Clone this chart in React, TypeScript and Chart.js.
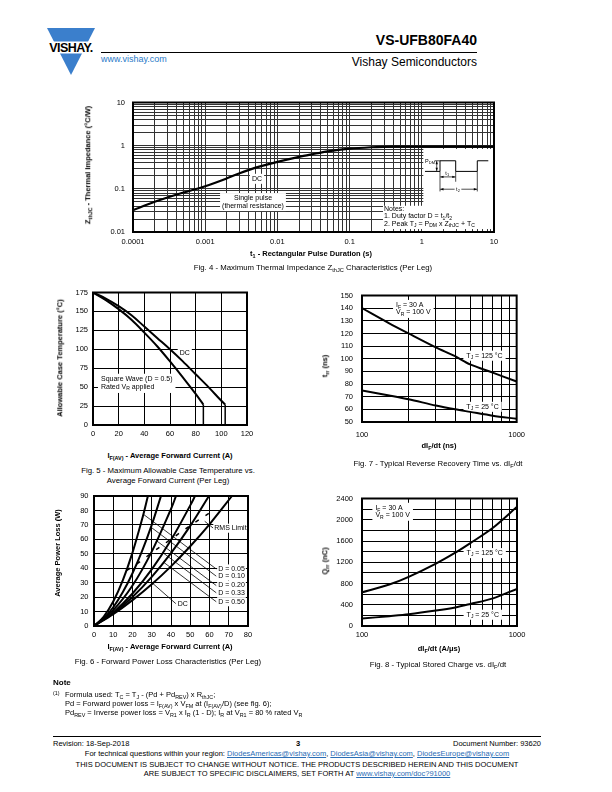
import React, { useEffect, useRef } from "react";
import { Chart, registerables } from "chart.js";

Chart.register(...registerables);

const FAMILY = "'Liberation Sans', Arial, Helvetica, sans-serif";

// ---------------- Fig. 4 data ----------------
const fig4T = [0.0001, 0.0002, 0.0003, 0.0005, 0.001, 0.002, 0.003, 0.005, 0.01, 0.02, 0.03, 0.05, 0.1, 0.2, 0.3, 0.5, 1, 2, 5, 10];
const fig4Z = [0.032, 0.05, 0.063, 0.082, 0.115, 0.175, 0.23, 0.31, 0.42, 0.55, 0.63, 0.74, 0.85, 0.92, 0.94, 0.95, 0.95, 0.95, 0.95, 0.95];
const fig4XTicks = [0.0001, 0.001, 0.01, 0.1, 1, 10];
const fig4XLabels = ["0.0001", "0.001", "0.01", "0.1", "1", "10"];
const fig4YTicks = [0.01, 0.1, 1, 10];
const fig4YLabels = ["0.01", "0.1", "1", "10"];

// ---------------- Fig. 5 data ----------------
const fig5DcI = [0, 10, 20, 30, 40, 50, 60, 70, 80, 90, 100, 103];
const fig5DcT = [175, 167, 157, 145, 130, 115, 100, 84, 67, 50, 32, 27];
const fig5SqI = [0, 10, 20, 30, 40, 50, 60, 70, 80, 86];
const fig5SqT = [175, 165, 153, 139, 122, 104, 84, 63, 41, 27];

// ---------------- Fig. 7 data ----------------
const fig7X = [100, 150, 200, 300, 400, 500, 700, 1000];
const fig7Hot = [140, 128, 120, 109, 102, 95.5, 89, 82];
const fig7Cold = [75, 71, 68, 63, 60, 58, 55, 52.5];
const logTicks100 = [100, 1000];
const logLabels100 = ["100", "1000"];

// ---------------- Fig. 8 data ----------------
const fig8X = [100, 150, 200, 300, 400, 500, 700, 1000];
const fig8Hot = [635, 780, 925, 1175, 1380, 1560, 1850, 2245];
const fig8Cold = [140, 185, 220, 290, 350, 415, 520, 700];

// ---------------- Fig. 6 data ----------------
const fig6Labels = ["D = 0.05", "D = 0.10", "D = 0.20", "D = 0.33", "D = 0.50", "DC"];
const fig6I005 = [0, 5, 10, 15, 20, 25, 28];
const fig6P005 = [0, 6.4, 17, 31.8, 50.8, 74, 90];
const fig6I010 = [0, 5, 10, 15, 20, 25, 30, 34.8];
const fig6P010 = [0, 5.3, 13, 23.5, 36.5, 52, 70, 90];
const fig6I020 = [0, 10, 20, 30, 40, 42.6];
const fig6P020 = [0, 11, 28, 51.5, 81, 90];
const fig6I033 = [0, 10, 20, 30, 40, 50, 52.5];
const fig6P033 = [0, 9.4, 22.5, 39.2, 59.5, 83.5, 90];
const fig6I050 = [0, 10, 20, 30, 40, 50, 59.7];
const fig6P050 = [0, 8.8, 20.1, 34, 50.4, 69.3, 90];
const fig6IDC = [0, 10, 20, 30, 40, 50, 60, 71.7];
const fig6PDC = [0, 8.2, 17.9, 28.9, 41.3, 55.2, 70.4, 90];
const fig6RmsI = [17, 22, 29.5, 40.3, 50.2, 62];
const fig6RmsP = [38.5, 42.7, 50.2, 60.4, 69.8, 80];
// leader lines: curve point -> label point
const fig6LeadFromI = [25.6, 29.6, 32.6, 35.6, 36.2, 30.5];
const fig6LeadFromP = [77.4, 68.4, 58.9, 50.9, 44.1, 29.5];
const fig6LabelI = [64.5, 64.5, 64.5, 64.5, 64.5, 43.5];
const fig6LabelP = [39.5, 34.5, 28, 23, 16.8, 15.5];

// ---------------- layout helpers ----------------
const YW = 44, PT = 8, PR = 16, XH = 18;

type Seg = { t: string; s: number };
function parseRich(str: string): Seg[] {
  const out: Seg[] = [];
  const re = /([_^])\{([^}]*)\}/g;
  let last = 0;
  let m: RegExpExecArray | null;
  while ((m = re.exec(str))) {
    if (m.index > last) out.push({ t: str.slice(last, m.index), s: 0 });
    out.push({ t: m[2], s: m[1] === "_" ? 1 : 2 });
    last = re.lastIndex;
  }
  if (last < str.length) out.push({ t: str.slice(last), s: 0 });
  return out;
}

function Rich({ text }: { text: string }) {
  return (
    <>
      {parseRich(text).map((g, i) =>
        g.s === 0 ? (
          <span key={i}>{g.t}</span>
        ) : (
          <span key={i} style={{ fontSize: "0.72em", position: "relative", top: g.s === 1 ? "0.3em" : "-0.45em" }}>{g.t}</span>
        )
      )}
    </>
  );
}

function richWidth(ctx: CanvasRenderingContext2D, segs: Seg[], size: number, weight: string) {
  let w = 0;
  for (const g of segs) {
    ctx.font = `${weight} ${g.s ? size * 0.72 : size}px ${FAMILY}`;
    w += ctx.measureText(g.t).width;
  }
  return w;
}
function drawRich(ctx: CanvasRenderingContext2D, segs: Seg[], x: number, y: number, size: number, weight: string) {
  let cx = x;
  for (const g of segs) {
    const fs = g.s ? size * 0.72 : size;
    ctx.font = `${weight} ${fs}px ${FAMILY}`;
    const dy = g.s === 1 ? size * 0.28 : g.s === 2 ? -size * 0.35 : 0;
    ctx.fillText(g.t, cx, y + dy);
    cx += ctx.measureText(g.t).width;
  }
}

function arrowHead(ctx: CanvasRenderingContext2D, x: number, y: number, ang: number, len: number) {
  ctx.beginPath();
  ctx.moveTo(x, y);
  ctx.lineTo(x - len * Math.cos(ang - 0.35), y - len * Math.sin(ang - 0.35));
  ctx.lineTo(x - len * Math.cos(ang + 0.35), y - len * Math.sin(ang + 0.35));
  ctx.closePath();
  ctx.fill();
}

const decoPlugin = {
  id: "deco",
  beforeDatasetsDraw(chart: any, _a: any, o: any) {
    const ctx: CanvasRenderingContext2D = chart.ctx;
    const xs = chart.scales.x, ys = chart.scales.y;
    const X = (v: number) => xs.getPixelForValue(v);
    const Y = (v: number) => ys.getPixelForValue(v);
    ctx.save();
    for (const r of o.rects || []) {
      const x1 = X(r.x1), x2 = X(r.x2), y1 = Y(r.y1), y2 = Y(r.y2);
      ctx.fillStyle = "#fff";
      ctx.fillRect(Math.min(x1, x2), Math.min(y1, y2), Math.abs(x2 - x1), Math.abs(y2 - y1));
    }
    for (const s of o.segs || []) {
      const x1 = X(s.x1), x2 = X(s.x2), y1 = Y(s.y1), y2 = Y(s.y2);
      ctx.strokeStyle = "#000";
      ctx.fillStyle = "#000";
      ctx.lineWidth = s.w ?? 1;
      ctx.setLineDash(s.dash || []);
      ctx.beginPath();
      ctx.moveTo(x1, y1);
      ctx.lineTo(x2, y2);
      ctx.stroke();
      ctx.setLineDash([]);
      if (s.arrows) {
        const ang = Math.atan2(y2 - y1, x2 - x1);
        arrowHead(ctx, x2, y2, ang, 3.5);
        arrowHead(ctx, x1, y1, ang + Math.PI, 3.5);
      }
    }
    for (const b of o.boxes || []) {
      const size = b.size ?? 7;
      const weight = b.weight ?? "normal";
      const lh = b.lh ?? size * 1.15;
      const lines = b.lines.map(parseRich);
      const widths = lines.map((l: Seg[]) => richWidth(ctx, l, size, weight));
      const w = Math.max(...widths);
      const h = lh * lines.length;
      const ax = X(b.x), ay = Y(b.y);
      const align = b.align ?? "center";
      const left = align === "left" ? ax : align === "right" ? ax - w : ax - w / 2;
      const top = ay - h / 2;
      if (b.bg !== false) {
        const px = b.padX ?? 2, py = b.padY ?? 1;
        ctx.fillStyle = "#fff";
        ctx.fillRect(left - px, top - py, w + 2 * px, h + 2 * py);
      }
      ctx.fillStyle = "#000";
      ctx.textBaseline = "middle";
      ctx.textAlign = "left";
      lines.forEach((l: Seg[], i: number) => {
        const lx = align === "center" ? ax - widths[i] / 2 : align === "right" ? ax - widths[i] : left;
        drawRich(ctx, l, lx, top + lh * (i + 0.5), size, weight);
      });
    }
    ctx.restore();
  },
  afterDraw(chart: any, _a: any, o: any) {
    const { left, top, right, bottom } = chart.chartArea;
    const ctx: CanvasRenderingContext2D = chart.ctx;
    ctx.save();
    ctx.strokeStyle = "#000";
    ctx.lineWidth = o.frame ?? 2;
    ctx.strokeRect(left, top, right - left, bottom - top);
    ctx.restore();
  },
};

const tickFont = { family: FAMILY, size: 7.5 };
const fitY = (s: any) => { s.width = YW; };
const fitX = (s: any) => { s.height = XH; };

function linScale(isX: boolean, min: number, max: number, step: number, pad: number) {
  return {
    type: "linear",
    min, max,
    afterFit: isX ? fitX : fitY,
    ticks: { stepSize: step, font: tickFont, color: "#000", padding: pad, maxRotation: 0, autoSkip: false },
    grid: { color: "#000", lineWidth: 1, drawTicks: false },
    border: { display: false },
  };
}

function logGrid(min: number, max: number) {
  const out: number[] = [];
  for (let d = min; d < max * 0.999; d *= 10) {
    for (let m = 1; m <= 9; m++) out.push(parseFloat((m * d).toPrecision(6)));
  }
  out.push(max);
  return out;
}

function logScale(isX: boolean, min: number, max: number, tv: number[], tl: string[], pad: number, gridColor: string) {
  const grid = logGrid(min, max);
  return {
    type: "logarithmic",
    min, max,
    afterFit: isX ? fitX : fitY,
    afterBuildTicks: (s: any) => { s.ticks = grid.map((v) => ({ value: v })); },
    ticks: {
      font: tickFont, color: "#000", padding: pad, maxRotation: 0, autoSkip: false,
      callback: (v: any) => {
        const i = tv.findIndex((t) => Math.abs(Math.log10(t) - Math.log10(Number(v))) < 1e-6);
        return i >= 0 ? tl[i] : "";
      },
    },
    grid: { color: gridColor, lineWidth: 1, drawTicks: false },
    border: { display: false },
  };
}

function xy(xs: number[], ys: number[]) {
  return xs.map((x, i) => ({ x, y: ys[i] }));
}
function curve(xs: number[], ys: number[], w = 2, tension = 0.35) {
  return { data: xy(xs, ys), borderColor: "#000", borderWidth: w, pointRadius: 0, tension, fill: false };
}

function baseOptions(x: any, y: any, deco: any) {
  return {
    responsive: false,
    animation: false,
    devicePixelRatio: 1,
    events: [],
    layout: { padding: { left: 0, top: PT, right: PR, bottom: 0 } },
    plugins: { legend: { display: false }, tooltip: { enabled: false }, title: { display: false }, deco },
    scales: { x, y },
  };
}

type Plot = { l: number; t: number; r: number; b: number };

function ChartBox({ plot, make }: { plot: Plot; make: () => any }) {
  const ref = useRef<HTMLCanvasElement>(null);
  const w = plot.r - plot.l + YW + PR;
  const h = plot.b - plot.t + PT + XH;
  useEffect(() => {
    const chart = new Chart(ref.current as HTMLCanvasElement, make());
    return () => chart.destroy();
  }, []);
  return (
    <canvas
      ref={ref}
      width={w}
      height={h}
      style={{ position: "absolute", left: plot.l - YW, top: plot.t - PT, width: w, height: h }}
    />
  );
}

// ---------------- chart configs ----------------
function makeFig4() {
  const deco = {
    frame: 2,
    rects: [
      { x1: 1.05, y1: 0.04, x2: 10, y2: 0.84 },
      { x1: 0.29, y1: 0.0117, x2: 10, y2: 0.0405 },
    ],
    segs: [
      { x1: 1.107, y1: 0.2535, x2: 1.787, y2: 0.2535 },
      { x1: 1.787, y1: 0.2535, x2: 1.787, y2: 0.4467 },
      { x1: 1.787, y1: 0.4467, x2: 2.948, y2: 0.4467 },
      { x1: 2.948, y1: 0.4467, x2: 2.948, y2: 0.2535 },
      { x1: 2.948, y1: 0.2535, x2: 5.87, y2: 0.2535 },
      { x1: 5.87, y1: 0.2535, x2: 5.87, y2: 0.4467 },
      { x1: 5.87, y1: 0.4467, x2: 8.34, y2: 0.4467 },
      { x1: 1.5, y1: 0.4467, x2: 1.787, y2: 0.4467, w: 0.7 },
      { x1: 1.61, y1: 0.44, x2: 1.61, y2: 0.258, w: 0.7, arrows: true },
      { x1: 1.787, y1: 0.2535, x2: 1.787, y2: 0.087, w: 0.7 },
      { x1: 2.948, y1: 0.2535, x2: 2.948, y2: 0.146, w: 0.7 },
      { x1: 5.87, y1: 0.2535, x2: 5.87, y2: 0.087, w: 0.7 },
      { x1: 1.8, y1: 0.189, x2: 2.93, y2: 0.189, w: 0.7, arrows: true },
      { x1: 1.8, y1: 0.098, x2: 5.83, y2: 0.098, w: 0.7, arrows: true },
    ],
    boxes: [
      { x: 0.00522, y: 0.1706, lines: ["DC"], size: 7 },
      { x: 0.00459, y: 0.0494, lines: ["Single pulse", "(thermal resistance)"], size: 7, lh: 8 },
      { x: 1.52, y: 0.43, lines: ["P_{DM}"], size: 5.5, align: "right", bg: false },
      { x: 2.25, y: 0.225, lines: ["t_{1}"], size: 5.5, bg: false },
      { x: 3.17, y: 0.098, lines: ["t_{2}"], size: 5.5, padX: 1.5 },
      {
        x: 0.3, y: 0.0228, align: "left", size: 7, lh: 7.4, bg: false,
        lines: ["Notes:", "1. Duty factor D = t_{1}/t_{2}", "2. Peak T_{J} = P_{DM} x Z_{thJC} + T_{C}"],
      },
    ],
  };
  return {
    type: "line",
    data: { datasets: [curve(fig4T, fig4Z, 2.2, 0.3)] },
    options: baseOptions(
      logScale(true, 0.0001, 10, fig4XTicks, fig4XLabels, 5, "#333"),
      logScale(false, 0.01, 10, fig4YTicks, fig4YLabels, 8, "#333"),
      deco
    ),
    plugins: [decoPlugin],
  };
}

function makeFig5() {
  const dcEnd = fig5DcI.length - 1;
  const sqEnd = fig5SqI.length - 1;
  const deco = {
    frame: 2,
    boxes: [
      { x: 71.5, y: 95.5, lines: ["DC"], size: 7, padX: 2 },
      { x: 6.2, y: 55, align: "left", size: 7, lh: 7.6, padX: 3, padY: 2, lines: ["Square Wave (D = 0.5)", "Rated V_{R} applied"] },
    ],
  };
  return {
    type: "line",
    data: {
      datasets: [
        curve(fig5DcI, fig5DcT),
        curve(fig5SqI, fig5SqT),
        curve([fig5DcI[dcEnd], fig5DcI[dcEnd]], [fig5DcT[dcEnd], 0], 1.5, 0),
        curve([fig5SqI[sqEnd], fig5SqI[sqEnd]], [fig5SqT[sqEnd], 0], 1.5, 0),
      ],
    },
    options: baseOptions(linScale(true, 0, 120, 20, 4), linScale(false, 0, 175, 25, 5), deco),
    plugins: [decoPlugin],
  };
}

function makeFig7() {
  const deco = {
    frame: 2,
    boxes: [
      { x: 166, y: 139.4, align: "left", size: 7, lh: 7, padX: 3, padY: 2, lines: ["I_{F} = 30 A", "V_{R} = 100 V"] },
      { x: 473, y: 102.4, align: "left", size: 7, padX: 3, lines: ["T_{J} = 125 °C"] },
      { x: 473, y: 62, align: "left", size: 7, padX: 3, lines: ["T_{J} = 25 °C"] },
    ],
  };
  return {
    type: "line",
    data: { datasets: [curve(fig7X, fig7Hot, 2, 0.3), curve(fig7X, fig7Cold, 2, 0.3)] },
    options: baseOptions(
      logScale(true, 100, 1000, logTicks100, logLabels100, 8, "#000"),
      linScale(false, 50, 150, 10, 9),
      deco
    ),
    plugins: [decoPlugin],
  };
}

function makeFig8() {
  const deco = {
    frame: 2,
    boxes: [
      { x: 122, y: 2150, align: "left", size: 7, lh: 7, padX: 3, padY: 2, lines: ["I_{F} = 30 A", "V_{R} = 100 V"] },
      { x: 473, y: 1372, align: "left", size: 7, padX: 3, lines: ["T_{J} = 125 °C"] },
      { x: 473, y: 212, align: "left", size: 7, padX: 3, lines: ["T_{J} = 25 °C"] },
    ],
  };
  const y = linScale(false, 0, 2400, 200, 9) as any;
  y.ticks.callback = (v: any) => (Number(v) % 400 === 0 ? String(v) : "");
  return {
    type: "line",
    data: { datasets: [curve(fig8X, fig8Hot, 2, 0.3), curve(fig8X, fig8Cold, 2, 0.3)] },
    options: baseOptions(logScale(true, 100, 1000, logTicks100, logLabels100, 4.5, "#000"), y, deco),
    plugins: [decoPlugin],
  };
}

function makeFig6() {
  const segs = fig6LeadFromI.map((x, i) => ({ x1: x, y1: fig6LeadFromP[i], x2: fig6LabelI[i] - 1, y2: fig6LabelP[i], w: 0.8 }));
  segs.push({ x1: 57.5, y1: 72.5, x2: 62, y2: 67.7, w: 0.8 });
  const boxes: any[] = fig6Labels.map((t, i) => ({ x: fig6LabelI[i], y: fig6LabelP[i], align: "left", size: 7, padX: 1, padY: 0.5, lines: [t] }));
  boxes.push({ x: 62.5, y: 67.7, align: "left", size: 7, padX: 1, padY: 0.5, lines: ["RMS Limit"] });
  const rms = curve(fig6RmsI, fig6RmsP, 1.5, 0) as any;
  rms.borderDash = [4, 8];
  return {
    type: "line",
    data: {
      datasets: [
        curve(fig6I005, fig6P005),
        curve(fig6I010, fig6P010),
        curve(fig6I020, fig6P020),
        curve(fig6I033, fig6P033),
        curve(fig6I050, fig6P050),
        curve(fig6IDC, fig6PDC),
        rms,
      ],
    },
    options: baseOptions(linScale(true, 0, 80, 10, 4.5), linScale(false, 0, 90, 10, 5.5), { frame: 2, segs, boxes }),
    plugins: [decoPlugin],
  };
}

// ---------------- page text helpers ----------------
// Text placed without transforms so glyphs land on whole pixels.
function T({ x, y, children, size = 7.5, bold = false, align = "left", color = "#000" }: any) {
  const lh = Math.ceil(size * 1.2);
  const top = Math.round(y - lh / 2);
  const pos: any =
    align === "center"
      ? { left: Math.round(x) - 300, width: 600, textAlign: "center" }
      : align === "right"
      ? { right: 612 - Math.round(x), textAlign: "right" }
      : { left: Math.round(x) };
  return (
    <div style={{ position: "absolute", top, ...pos, fontSize: size, lineHeight: `${lh}px`, fontWeight: bold ? "bold" : "normal", whiteSpace: "nowrap", color }}>
      {children}
    </div>
  );
}
function VT({ x, y, children, size = 7.5 }: any) {
  return (
    <div style={{ position: "absolute", left: x, top: y, transform: "translate(-50%,-50%) rotate(-90deg)", fontSize: size, fontWeight: "bold", whiteSpace: "nowrap", lineHeight: 1 }}>
      {children}
    </div>
  );
}
const link = { color: "#2a6db5", textDecoration: "underline", fontWeight: "normal" };

function Logo() {
  return (
    <svg style={{ position: "absolute", left: 44, top: 26 }} width={56} height={52} viewBox="0 0 56 52">
      <polygon points="3,2 51,2 27,49" fill="#3b7fcc" />
      <rect x={0} y={15.5} width={56} height={12} fill="#fff" />
      <text x={27} y={26} textAnchor="middle" fontFamily={FAMILY} fontWeight="bold" fontSize={12.5} letterSpacing={-0.6} fill="#000">VISHAY.</text>
    </svg>
  );
}

export default function App() {
  return (
    <div style={{ position: "absolute", left: 0, top: 0, width: 612, height: 792, background: "#fff", fontFamily: FAMILY, color: "#000", overflow: "hidden" }}>
      <Logo />
      <T x={477} y={40} size={14} bold align="right">VS-UFB80FA40</T>
      <div style={{ position: "absolute", left: 101, top: 52, width: 376, height: 1, background: "#000" }} />
      <T x={101} y={59} size={9} color="#2a7ac8">www.vishay.com</T>
      <T x={477} y={62} size={12} align="right">Vishay Semiconductors</T>

      {/* Fig. 4 */}
      <ChartBox plot={{ l: 133, t: 98, r: 494, b: 232 }} make={makeFig4} />
      <VT x={88} y={165}><Rich text="Z_{thJC} - Thermal Impedance (°C/W)" /></VT>
      <T x={311} y={253.5} bold align="center"><Rich text="t_{1} - Rectangular Pulse Duration (s)" /></T>
      <T x={313} y={267.5} size={7.8} align="center"><Rich text="Fig. 4 - Maximum Thermal Impedance Z_{thJC} Characteristics (Per Leg)" /></T>

      {/* Fig. 5 */}
      <ChartBox plot={{ l: 93, t: 291, r: 247, b: 425 }} make={makeFig5} />
      <VT x={60} y={358}>Allowable Case Temperature (°C)</VT>
      <T x={170} y={455} bold align="center"><Rich text="I_{F(AV)} - Average Forward Current (A)" /></T>
      <T x={168} y={470.5} size={7.8} align="center">Fig. 5 - Maximum Allowable Case Temperature vs.</T>
      <T x={168} y={481} size={7.8} align="center">Average Forward Current (Per Leg)</T>

      {/* Fig. 7 */}
      <ChartBox plot={{ l: 362, t: 290, r: 517, b: 422 }} make={makeFig7} />
      <VT x={325} y={366}><Rich text="t_{rr} (ns)" /></VT>
      <T x={439} y={445} bold align="center"><Rich text="dI_{F}/dt (ns)" /></T>
      <T x={438} y={464} size={7.8} align="center"><Rich text="Fig. 7 - Typical Reverse Recovery Time vs. dI_{F}/dt" /></T>

      {/* Fig. 6 */}
      <ChartBox plot={{ l: 94, t: 494, r: 248, b: 626 }} make={makeFig6} />
      <VT x={58} y={553}>Average Power Loss (W)</VT>
      <T x={170} y={646} bold align="center"><Rich text="I_{F(AV)} - Average Forward Current (A)" /></T>
      <T x={168} y={661.5} size={7.8} align="center">Fig. 6 - Forward Power Loss Characteristics (Per Leg)</T>

      {/* Fig. 8 */}
      <ChartBox plot={{ l: 362, t: 493, r: 517, b: 626 }} make={makeFig8} />
      <VT x={325} y={561}><Rich text="Q_{rr} (nC)" /></VT>
      <T x={439} y={648} bold align="center"><Rich text="dI_{F}/dt (A/μs)" /></T>
      <T x={438} y={665} size={7.8} align="center"><Rich text="Fig. 8 - Typical Stored Charge vs. dI_{F}/dt" /></T>

      {/* Note */}
      <T x={53} y={683} size={8} bold>Note</T>
      <T x={53} y={694} size={7.5}><Rich text="^{(1)}" /></T>
      <T x={65} y={694} size={7.5}><Rich text="Formula used: T_{C} = T_{J} - (Pd + Pd_{REV}) x R_{thJC};" /></T>
      <T x={65} y={703} size={7.5}><Rich text="Pd = Forward power loss = I_{F(AV)} x V_{FM} at (I_{F(AV)}/D) (see fig. 6);" /></T>
      <T x={65} y={712} size={7.5}><Rich text="Pd_{REV} = Inverse power loss = V_{R1} x I_{R} (1 - D); I_{R} at V_{R1} = 80 % rated V_{R}" /></T>

      {/* Footer */}
      <div style={{ position: "absolute", left: 53, top: 736, width: 488, height: 1, background: "#000" }} />
      <T x={53} y={743} size={7.5}>Revision: 18-Sep-2018</T>
      <T x={298} y={743.5} size={7.5} bold align="center">3</T>
      <T x={541} y={743} size={7.5} align="right">Document Number: 93620</T>
      <T x={297} y={753.5} size={7.5} align="center">
        For technical questions within your region: <span style={link}>DiodesAmericas@vishay.com</span>, <span style={link}>DiodesAsia@vishay.com</span>, <span style={link}>DiodesEurope@vishay.com</span>
      </T>
      <T x={297} y={764.5} size={7.5} align="center">THIS DOCUMENT IS SUBJECT TO CHANGE WITHOUT NOTICE. THE PRODUCTS DESCRIBED HEREIN AND THIS DOCUMENT</T>
      <T x={297} y={773.5} size={7.5} align="center">
        ARE SUBJECT TO SPECIFIC DISCLAIMERS, SET FORTH AT <span style={link}>www.vishay.com/doc?91000</span>
      </T>
    </div>
  );
}
